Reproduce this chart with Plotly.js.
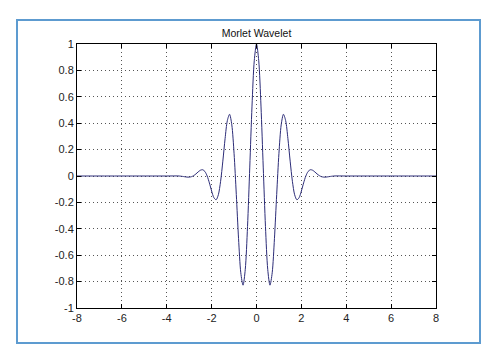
<!DOCTYPE html>
<html>
<head>
<meta charset="utf-8">
<script src="https://cdn.plot.ly/plotly-3.0.1.min.js"></script>
<style>
  html, body { margin: 0; padding: 0; background: #ffffff; }
  #wrap { position: relative; width: 489px; height: 356px; }
  #chart { position: absolute; left: 0; top: 0; width: 489px; height: 356px; }
  #frame { position: absolute; left: 16px; top: 19px; width: 461px; height: 321px;
           border: 2px solid #5d9bd0; pointer-events: none; }
</style>
</head>
<body>
<div id="wrap">
  <div id="chart"></div>
  <div id="frame"></div>
</div>
<script>
// Values (Morlet wavelet)
const xValues = [-8, -6, -4, -3.5, -3.4, -3.3, -3.2, -3.1, -3.0, -2.9, -2.8, -2.7, -2.6, -2.5, -2.4, -2.3, -2.2, -2.1, -2.0,
  -1.9, -1.8, -1.7, -1.6, -1.5, -1.4, -1.3, -1.2, -1.1, -1.0, -0.9, -0.8, -0.7, -0.6, -0.5, -0.4, -0.3, -0.2, -0.1,
  0, 0.1, 0.2, 0.3, 0.4, 0.5, 0.6, 0.7, 0.8, 0.9, 1.0, 1.1, 1.2, 1.3, 1.4, 1.5, 1.6, 1.7, 1.8, 1.9,
  2.0, 2.1, 2.2, 2.3, 2.4, 2.5, 2.6, 2.7, 2.8, 2.9, 3.0, 3.1, 3.2, 3.3, 3.4, 3.5, 4, 6, 8];
const yValues = [0, 0, 0, 0.0004, -0.0008, -0.003, -0.0057, -0.008, -0.0084, -0.0053, 0.0027, 0.0155, 0.0309, 0.0438, 0.0474, 0.0343, 0.0004, -0.0524, -0.1136,
  -0.164, -0.1803, -0.1419, -0.0404, 0.1125, 0.283, 0.4195, 0.4674, 0.387, 0.1721, -0.1406, -0.4746, -0.733, -0.827, -0.707, -0.3841, 0.0676, 0.5296, 0.873,
  1.0, 0.873, 0.5296, 0.0676, -0.3841, -0.707, -0.827, -0.733, -0.4746, -0.1406, 0.1721, 0.387, 0.4674, 0.4195, 0.283, 0.1125, -0.0404, -0.1419, -0.1803, -0.164,
  -0.1136, -0.0524, 0.0004, 0.0343, 0.0474, 0.0438, 0.0309, 0.0155, 0.0027, -0.0053, -0.0084, -0.008, -0.0057, -0.003, -0.0008, 0.0004, 0, 0, 0];
const xTicks = [-8, -6, -4, -2, 0, 2, 4, 6, 8];
const yTicks = [-1, -0.8, -0.6, -0.4, -0.2, 0, 0.2, 0.4, 0.6, 0.8, 1];
const titleText = 'Morlet Wavelet';

const axisCommon = {
  showline: true, linecolor: '#000000', linewidth: 1, mirror: 'ticks',
  ticks: 'inside', ticklen: 4, tickwidth: 1, tickcolor: '#000000',
  showgrid: true, gridcolor: '#555555', gridwidth: 1, griddash: '1px,3px',
  zeroline: false,
  tickfont: { family: 'Liberation Sans, Arial, sans-serif', size: 11, color: '#222222' },
  tickmode: 'array'
};

const trace = {
  x: xValues, y: yValues, type: 'scatter', mode: 'lines',
  line: { color: '#2c2c78', width: 1, shape: 'spline', smoothing: 0.8 },
  hoverinfo: 'skip'
};

const layout = {
  width: 489, height: 356,
  margin: { l: 77, r: 53, t: 44, b: 48 },
  paper_bgcolor: '#ffffff', plot_bgcolor: '#ffffff',
  showlegend: false,
  title: {
    text: titleText,
    font: { family: 'Liberation Sans, Arial, sans-serif', size: 10.5, color: '#111111' },
    x: 0.5, xref: 'paper', xanchor: 'center',
    y: 1, yref: 'paper', yanchor: 'bottom', pad: { b: 7 }
  },
  xaxis: Object.assign({}, axisCommon, {
    range: [-8, 8], tickvals: xTicks, ticktext: xTicks.map(String), ticklabelstandoff: 0
  }),
  yaxis: Object.assign({}, axisCommon, {
    range: [-1, 1], tickvals: yTicks, ticktext: yTicks.map(String), ticklabelstandoff: 0
  })
};

Plotly.newPlot('chart', [trace], layout, { staticPlot: true, displayModeBar: false });
</script>
</body>
</html>
